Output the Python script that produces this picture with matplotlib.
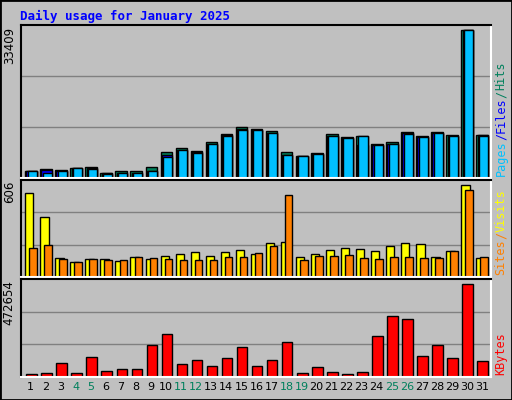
import matplotlib
matplotlib.use("Agg")
import matplotlib.pyplot as plt
import numpy as np

days = list(range(1, 32))
weekend = [4, 5, 11, 12, 18, 19, 25, 26]

hits = [1512, 1966, 1739, 2192, 2419, 1058, 1512, 1512, 2419, 5821, 6728, 6048, 8089, 9904, 11491,
        11038, 10584, 5821, 4914, 5594, 9904, 9223, 9450, 7636, 8089, 10357, 9450, 10357, 9677, 33409, 9677]
files = [1512, 1739, 1512, 2192, 2192, 1058, 1058, 1058, 1512, 5141, 6275, 5821, 7636, 9677, 11038,
         10811, 10130, 5141, 4914, 5368, 9450, 8996, 7409, 7409, 7636, 10130, 9223, 10130, 9450, 33409, 9677]
pages = [1512, 1210, 1512, 2192, 1966, 832, 1058, 1058, 1512, 4687, 6275, 5594, 7636, 9450, 10811,
         10811, 10130, 5141, 4914, 5368, 9450, 8996, 9450, 7409, 7636, 9904, 9223, 10130, 9450, 33409, 9450]
visits = [553, 396, 127, 101, 120, 120, 107, 133, 120, 140, 153, 166, 140, 166, 179,
          153, 225, 232, 133, 153, 179, 193, 186, 173, 206, 225, 219, 133, 173, 606, 127]
sites = [193, 212, 120, 101, 120, 114, 114, 133, 127, 120, 114, 114, 114, 133, 133,
         160, 206, 540, 114, 140, 140, 147, 127, 120, 133, 133, 127, 127, 173, 573, 133]
kbytes = [17250, 22400, 69000, 22400, 100000, 32800, 43100, 43100, 162000, 219000, 63800, 84500,
          53500, 94900, 151800, 53500, 84500, 177700, 22400, 48300, 27600, 17250, 27600, 208700,
          312200, 296700, 105200, 162000, 94900, 472654, 79400]

BG = "#C0C0C0"
W, H = 512, 400
fig = plt.figure(figsize=(W / 100, H / 100), dpi=100, facecolor=BG)
mono = "DejaVu Sans Mono"

# outer border
fig.add_artist(plt.Rectangle((0, 0), 1, 1, transform=fig.transFigure, fill=False,
                             edgecolor="black", linewidth=2))
fig.text(20 / W, 1 - 16 / H, "Daily usage for January 2025", color="#0000FF",
         fontfamily=mono, fontweight="bold", fontsize=9, va="center")

x = np.array(days, dtype=float)
renderer = fig.canvas.get_renderer()


def panel(top, bottom, vmax, frac, label):
    ax = fig.add_axes([21 / W, 1 - bottom / H, (491 - 21) / W, (bottom - top) / H])
    ax.set_facecolor(BG)
    ax.set_xlim(0.5, 31.75)
    ax.set_ylim(0, vmax / frac)
    for f in (1 / 3, 2 / 3):
        ax.axhline(vmax / frac * f, color="#808080", linewidth=1, zorder=0)
    ax.set_xticks([])
    ax.set_yticks([])
    ax.spines["left"].set_color("black")
    ax.spines["top"].set_color("black")
    ax.spines["right"].set_color("white")
    ax.spines["bottom"].set_color("white")
    for s in ax.spines.values():
        s.set_linewidth(1.5)
    ax.text(-0.025, 0.99, label, transform=ax.transAxes, rotation=90, ha="center", va="top",
            fontsize=8.5)
    return ax


def bars(ax, vals, left, right, color):
    ax.bar(x + (left + right) / 2, vals, width=right - left, color=color,
           edgecolor="black", linewidth=1)


def side_label(ax, parts):
    # stack coloured pieces bottom-up, measuring each one
    bb = ax.get_window_extent(renderer)
    ypix = bb.y0 + 2
    for txt, col in parts:
        t = fig.text((bb.x1 + 10) / W, ypix / H, txt, rotation=90, color=col,
                     fontfamily=mono, fontsize=8.5, ha="center", va="bottom")
        ypix += t.get_window_extent(renderer).height


ax1 = panel(25, 178, 33409, 0.97, "33409")
bars(ax1, hits, -0.22, 0.55, "#00805C")
bars(ax1, files, -0.14, 0.55, "#0000FF")
bars(ax1, pages, -0.06, 0.55, "#00C0FF")
side_label(ax1, [("Pages", "#00C0FF"), ("/", "#0000FF"), ("Files", "#0000FF"),
                 ("/", "#00805C"), ("Hits", "#00805C")])

ax2 = panel(180, 277, 606, 0.95, "606")
bars(ax2, visits, -0.22, 0.33, "#FFFF00")
bars(ax2, sites, 0.05, 0.55, "#FF8000")
side_label(ax2, [("Sites", "#FF8000"), ("/", "#FF8000"), ("Visits", "#FFFF00")])

ax3 = panel(279, 377, 472654, 0.95, "472654")
bars(ax3, kbytes, -0.15, 0.55, "#FF0000")
side_label(ax3, [("KBytes", "#FF0000")])

for d in days:
    ax3.text(d + 0.15, -0.05, str(d), transform=ax3.get_xaxis_transform(), ha="center", va="top",
             fontsize=8, color="#00805C" if d in weekend else "black")

fig.savefig("out.png", dpi=100, facecolor=BG)
